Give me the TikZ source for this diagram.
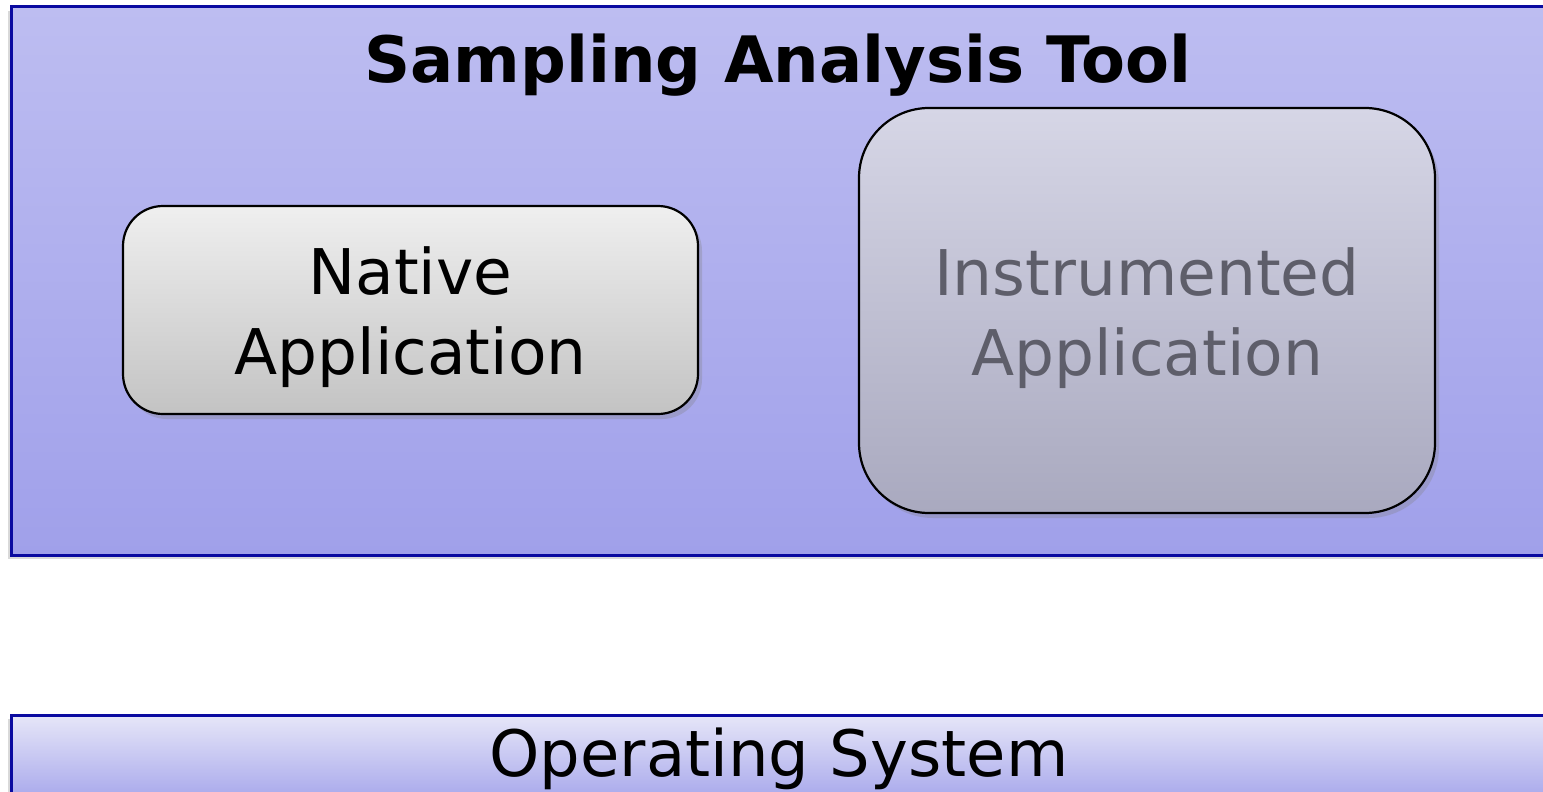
\documentclass[tikz,border=0pt]{standalone}
\usepackage{fontspec}
\setmainfont{DejaVu Sans}
\usetikzlibrary{shadows}
\definecolor{ToolTop}{HTML}{BDBDF1}
\definecolor{ToolBottom}{HTML}{A0A0EA}
\definecolor{ToolEdge}{HTML}{0A0AA0}
\definecolor{NativeTop}{HTML}{EFEFEF}
\definecolor{NativeBottom}{HTML}{C3C3C3}
\definecolor{InstrTop}{HTML}{D6D6E6}
\definecolor{InstrBottom}{HTML}{A9A9BF}
\definecolor{InstrText}{HTML}{5E5E6A}
\definecolor{OsTop}{HTML}{E6E6F8}
\definecolor{OsBottom}{HTML}{A0A0EA}

\begin{document}
\begin{tikzpicture}[x=1pt, y=-1pt,
  layer/.style={draw=ToolEdge, line width=3pt, inner sep=0pt,
               drop shadow={shadow xshift=-3pt, shadow yshift=-4pt, opacity=0.3}},
  app/.style={draw=black, line width=2.2pt, inner sep=0pt,
              drop shadow={shadow xshift=4pt, shadow yshift=-5pt, opacity=0.3}},
  big/.style={anchor=base, align=center, inner sep=0pt,
              font=\fontsize{63}{80}\selectfont},
]
  \useasboundingbox (0, 0) rectangle (1543, 792);
  \clip (0, 0) rectangle (1543, 792);

  % upper layer
  \node[layer, top color=ToolTop, bottom color=ToolBottom,
        minimum width=1542pt, minimum height=548pt] (tool) at (782, 281) {};
  \node[big, font=\fontsize{64}{80}\selectfont\bfseries] (title) at (778, 82)
    {Sampling Analysis Tool};

  \node[app, top color=NativeTop, bottom color=NativeBottom, rounded corners=40pt,
        minimum width=575pt, minimum height=208pt] (native) at (410.5, 310) {};
  \node[big] (nativetext) at (410.5, 374) {Native\\Application};

  \node[app, top color=InstrTop, bottom color=InstrBottom, rounded corners=70pt,
        minimum width=576pt, minimum height=405pt] (instr) at (1147, 310.5) {};
  \node[big, text=InstrText] (instrtext) at (1147, 375) {Instrumented\\Application};

  % lower layer
  \node[layer, top color=OsTop, bottom color=OsBottom,
        minimum width=1542pt, minimum height=95pt] (os) at (782, 762.5) {};
  \node[big, font=\fontsize{64}{80}\selectfont] (ostext) at (779, 776) {Operating System};
\end{tikzpicture}
\end{document}
